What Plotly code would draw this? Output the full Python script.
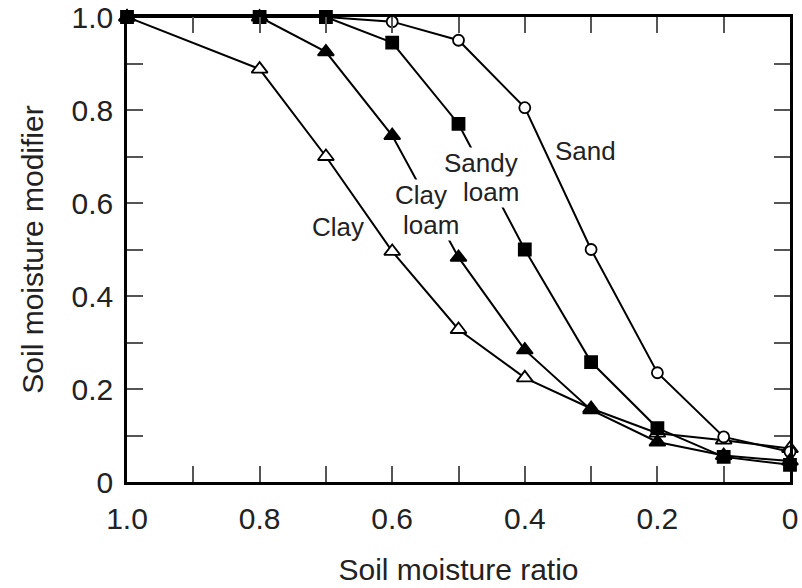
import plotly.graph_objects as go

# Data
ratio = [1.0, 0.8, 0.7, 0.6, 0.5, 0.4, 0.3, 0.2, 0.1, 0.0]
sand = [1.0, 1.0, 1.0, 0.99, 0.95, 0.805, 0.50, 0.235, 0.097, 0.065]
sandy_loam = [1.0, 1.0, 1.0, 0.945, 0.77, 0.50, 0.258, 0.116, 0.054, 0.037]
clay_loam = [1.0, 1.0, 0.925, 0.745, 0.483, 0.284, 0.155, 0.086, 0.057, 0.045]
clay = [1.0, 0.888, 0.70, 0.496, 0.328, 0.224, 0.158, 0.105, 0.09, 0.072]

tick_vals = [0.0, 0.1, 0.2, 0.3, 0.4, 0.5, 0.6, 0.7, 0.8, 0.9, 1.0]
tick_text = ["0", "", "0.2", "", "0.4", "", "0.6", "", "0.8", "", "1.0"]

# Curve labels (word, x, y, mask the line behind it)
label_words = ["Sand", "Sandy", "loam", "Clay", "loam", "Clay"]
label_x = [0.309, 0.466, 0.451, 0.557, 0.541, 0.682]
label_y = [0.712, 0.685, 0.624, 0.617, 0.552, 0.548]
label_mask = [False, True, True, True, True, False]

FONT = "Liberation Sans, Arial, sans-serif"

fig = go.Figure()

def add(y, symbol, size, fill):
    fig.add_trace(go.Scatter(
        x=ratio, y=y, mode="lines+markers", cliponaxis=False,
        line=dict(color="black", width=2),
        marker=dict(symbol=symbol, size=size, color=fill,
                    line=dict(color="black", width=1.8)),
        showlegend=False, hoverinfo="skip"))

add(clay, "triangle-up", 14, "white")
add(sand, "circle", 11, "white")
add(clay_loam, "triangle-up", 14, "black")
add(sandy_loam, "square", 12, "black")

for txt, lx, ly, bg in zip(label_words, label_x, label_y, label_mask):
    fig.add_annotation(x=lx, y=ly, text=txt, showarrow=False,
                       font=dict(family=FONT, size=26, color="#222"),
                       bgcolor="white" if bg else "rgba(0,0,0,0)",
                       borderpad=0)

axis_common = dict(
    showline=True, linecolor="black", linewidth=2.5, mirror="ticks",
    ticks="inside", ticklen=16, tickwidth=2, tickcolor="#555",
    showgrid=False, zeroline=False,
    tickvals=tick_vals, ticktext=tick_text,
    tickfont=dict(family=FONT, size=30, color="#222"),
)

fig.update_xaxes(range=[1.0, 0.0], ticklabelstandoff=8,
                 title=dict(text="Soil moisture ratio", standoff=26,
                            font=dict(family=FONT, size=30, color="#222")),
                 **axis_common)
fig.update_yaxes(range=[0.0, 1.0], ticklabelstandoff=5,
                 title=dict(text="Soil moisture modifier", standoff=20,
                            font=dict(family=FONT, size=30, color="#222")),
                 **axis_common)

fig.update_layout(
    width=802, height=588,
    margin=dict(l=127, r=12, t=17, b=106, autoexpand=False),
    plot_bgcolor="white", paper_bgcolor="white",
)

fig.write_html("out.html")
